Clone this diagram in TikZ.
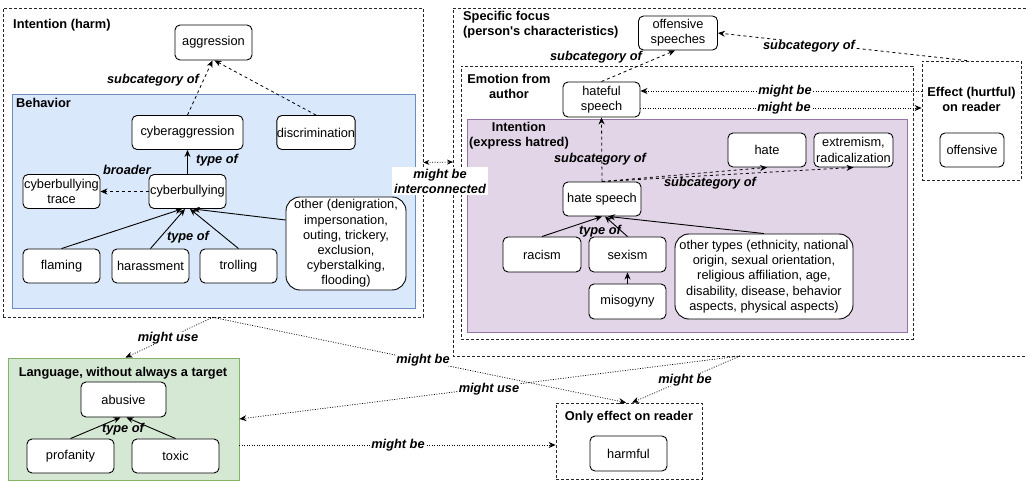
\documentclass[tikz,border=0pt]{standalone}
\usepackage{fontspec}
\setmainfont{Liberation Sans}
\usetikzlibrary{arrows.meta}
\definecolor{bluefill}{HTML}{DAE8FC}
\definecolor{bluedraw}{HTML}{6C8EBF}
\definecolor{purfill}{HTML}{E1D5E7}
\definecolor{purdraw}{HTML}{9673A6}
\definecolor{grnfill}{HTML}{D5E8D4}
\definecolor{grndraw}{HTML}{82B366}
\tikzset{
  nd/.style={draw, rounded corners=5pt, fill=white, align=center, font=\fontsize{12.8}{15.2}\selectfont, inner sep=0pt, line width=0.9pt},
  bignd/.style={nd, rounded corners=14pt},
  grp/.style={draw=black!85, line width=0.8pt, dash pattern=on 3pt off 2pt, inner sep=0pt},
  colgrp/.style={line width=0.9pt, inner sep=0pt},
  ttl/.style={font=\bfseries\fontsize{12.8}{15}\selectfont, inner sep=0pt},
  lbl/.style={font=\bfseries\itshape\fontsize{12.8}{15}\selectfont, inner sep=0.5pt, align=center},
  wlbl/.style={lbl, fill=white},
  tip/.style={-{Stealth[length=7pt,width=6pt]}},
  solidarr/.style={tip, line width=0.9pt},
  dasharr/.style={tip, line width=0.8pt, dash pattern=on 3pt off 3pt},
  dotarr/.style={tip, line width=0.7pt, dash pattern=on 1pt off 1.5pt},
}
\begin{document}
\begin{tikzpicture}[x=1pt,y=-1pt]
\useasboundingbox (0,0) rectangle (1026,481);
\fill[white] (0,0) rectangle (1026,481);

% group boxes
\node[grp, minimum width=420pt, minimum height=309pt] (intbox) at (213,162.5) {};
\node[colgrp, draw=bluedraw, fill=bluefill, minimum width=403pt, minimum height=214pt] (bluebox) at (213.5,201) {};
\draw[grp] (1026,8) -- (453,8) -- (453,356) -- (1026,356);
\coordinate (specl) at (453,162);
\coordinate (specb) at (740,356);
\node[grp, minimum width=452pt, minimum height=273pt] (emobox) at (687,202.5) {};
\node[colgrp, draw=purdraw, fill=purfill, minimum width=440pt, minimum height=213pt] (purbox) at (687,225.5) {};
\node[grp, minimum width=99pt, minimum height=119pt] (effbox) at (971.5,120.5) {};
\node[colgrp, draw=grndraw, fill=grnfill, minimum width=231pt, minimum height=122pt] (greenbox) at (123.5,419) {};
\node[grp, minimum width=146pt, minimum height=76pt] (onlybox) at (629,441) {};

% titles
\node[ttl, anchor=west] (t1) at (13,25) {Intention (harm)};
\node[ttl, anchor=west] (t2) at (16,103) {Behavior};
\node[ttl, anchor=west, align=left] (t3) at (463,25) {Specific focus\\(person\textquotesingle s characteristics)};
\node[ttl, align=center] (t4) at (509,86) {Emotion from\\author};
\node[ttl, align=center] (t5) at (519,135.5) {Intention\\(express hatred)};
\node[ttl, align=center] (t6) at (971.5,99.5) {Effect (hurtful)\\on reader};
\node[ttl] (t7) at (123,373) {Language, without always a target};
\node[ttl] (t8) at (629,417) {Only effect on reader};

% nodes
\node[nd, minimum width=77pt, minimum height=35pt] (aggr) at (213.5,42.5) {aggression};
\node[nd, minimum width=111pt, minimum height=34pt] (cyberaggr) at (187.5,132.5) {cyberaggression};
\node[nd, minimum width=77pt, minimum height=34pt] (discr) at (316,132.5) {discrimination};
\node[nd, minimum width=77pt, minimum height=34pt] (trace) at (61.5,191.5) {cyberbullying\\trace};
\node[nd, minimum width=77pt, minimum height=34pt] (cyberb) at (187.5,191.5) {cyberbullying};
\node[nd, minimum width=77pt, minimum height=34pt] (flaming) at (61.5,266) {flaming};
\node[nd, minimum width=77pt, minimum height=34pt] (harass) at (150.5,266) {harassment};
\node[nd, minimum width=77pt, minimum height=34pt] (troll) at (238.5,266) {trolling};
\node[bignd, minimum width=120pt, minimum height=93pt] (other) at (346,243.5) {other (denigration,\\impersonation,\\outing, trickery,\\exclusion,\\cyberstalking,\\flooding)};

\node[nd, minimum width=79pt, minimum height=34pt] (offsp) at (678,33) {offensive\\speeches};
\node[nd, minimum width=77pt, minimum height=35pt] (hateful) at (601.5,99.5) {hateful\\speech};
\node[nd, minimum width=64pt, minimum height=34pt] (offensive) at (972,150) {offensive};
\node[nd, minimum width=78pt, minimum height=34pt] (hate) at (767,150) {hate};
\node[nd, minimum width=79pt, minimum height=34pt] (extrem) at (853.5,150) {extremism,\\radicalization};
\node[nd, minimum width=78pt, minimum height=34pt] (hatesp) at (602,199) {hate speech};
\node[nd, minimum width=78pt, minimum height=35pt] (racism) at (542,254.5) {racism};
\node[nd, minimum width=77pt, minimum height=35pt] (sexism) at (627.5,254.5) {sexism};
\node[nd, minimum width=77pt, minimum height=35pt] (misog) at (627.5,301.5) {misogyny};
\node[bignd, minimum width=178pt, minimum height=85pt] (othert) at (764,276.5) {other types (ethnicity, national\\origin, sexual orientation,\\religious affiliation, age,\\disability, disease, behavior\\aspects, physical aspects)};

\node[nd, minimum width=85pt, minimum height=35pt] (abusive) at (123.5,399.5) {abusive};
\node[nd, minimum width=87pt, minimum height=34pt] (profan) at (70.5,456) {profanity};
\node[nd, minimum width=87pt, minimum height=34pt] (toxic) at (175.5,456) {toxic};
\node[nd, minimum width=77pt, minimum height=35pt] (harmful) at (628.5,453.5) {harmful};

% edges left
\draw[dasharr] (cyberaggr.north) -- ([xshift=-1pt]aggr.south);
\draw[dasharr] (discr.north) -- ([xshift=1pt]aggr.south);
\draw[solidarr] (cyberb.north) -- (cyberaggr.south);
\draw[dasharr] (cyberb.west) -- (trace.east);
\draw[solidarr] (flaming.north) -- ([xshift=-5.5pt]cyberb.south);
\draw[solidarr] (harass.north) -- ([xshift=-2.5pt]cyberb.south);
\draw[solidarr] (troll.north) -- ([xshift=2.5pt]cyberb.south);
\draw[solidarr] ([yshift=23.5pt]other.west) -- ([xshift=5.5pt]cyberb.south);
\draw[dotarr, {Stealth[length=6pt,width=5pt]}-{Stealth[length=6pt,width=5pt]}] (intbox.east) -- (specl);

% edges right
\draw[dasharr] (hateful.north) -- ([xshift=-3pt]offsp.south);
\draw[dasharr] ([xshift=-4.5pt]effbox.north) -- (offsp.east);
\draw[dotarr] ([yshift=29.5pt]effbox.west) -- ([yshift=8.5pt]hateful.east);
\draw[dotarr] ([yshift=-8.5pt]hateful.east) -- ([yshift=12.5pt]effbox.west);
\draw[dasharr] (hatesp.north) -- (hateful.south);
\draw[dasharr] (hatesp.north) -- (hate.south);
\draw[dasharr] (hatesp.north) -- (extrem.south);
\draw[solidarr] (racism.north) -- (hatesp.south);
\draw[solidarr] (sexism.north) -- ([xshift=3pt]hatesp.south);
\draw[solidarr] (othert.north) -- ([xshift=6pt]hatesp.south);
\draw[solidarr] (misog.north) -- (sexism.south);

% edges bottom
\draw[solidarr] (profan.north) -- ([xshift=-3pt]abusive.south);
\draw[solidarr] (toxic.north) -- ([xshift=3pt]abusive.south);
\draw[dotarr] (intbox.south) -- ([xshift=2pt]greenbox.north);
\draw[dotarr] (intbox.south) -- ([xshift=-3pt]onlybox.north);
\draw[dotarr] (specb) -- (greenbox.east);
\draw[dotarr] (specb) -- ([xshift=3pt]onlybox.north);
\draw[dotarr] ([yshift=-26pt]greenbox.east) -- ([yshift=-4pt]onlybox.west);

% labels
\node[lbl] (l1) at (153,80) {subcategory of};
\node[lbl] (l2) at (217,160) {type of};
\node[lbl] (l3) at (127,170) {broader};
\node[lbl] (l4) at (188,237) {type of};
\node[wlbl, inner sep=2pt] (l5) at (440,181) {might be\\interconnected};
\node[lbl] (l6) at (596,57) {subcategory of};
\node[wlbl] (l7) at (809,46) {subcategory of};
\node[wlbl] (l8) at (785,91) {might be};
\node[wlbl] (l9) at (784,108) {might be};
\node[lbl] (l10) at (600,159) {subcategory of};
\node[lbl] (l11) at (710,183) {subcategory of};
\node[lbl] (l12) at (600,231) {type of};
\node[lbl] (l13) at (123,429) {type of};
\node[wlbl] (l14) at (168,338) {might use};
\node[wlbl] (l15) at (423,360) {might be};
\node[wlbl] (l16) at (489,389) {might use};
\node[wlbl] (l17) at (685,380) {might be};
\node[wlbl] (l18) at (398,445) {might be};
\end{tikzpicture}
\end{document}
